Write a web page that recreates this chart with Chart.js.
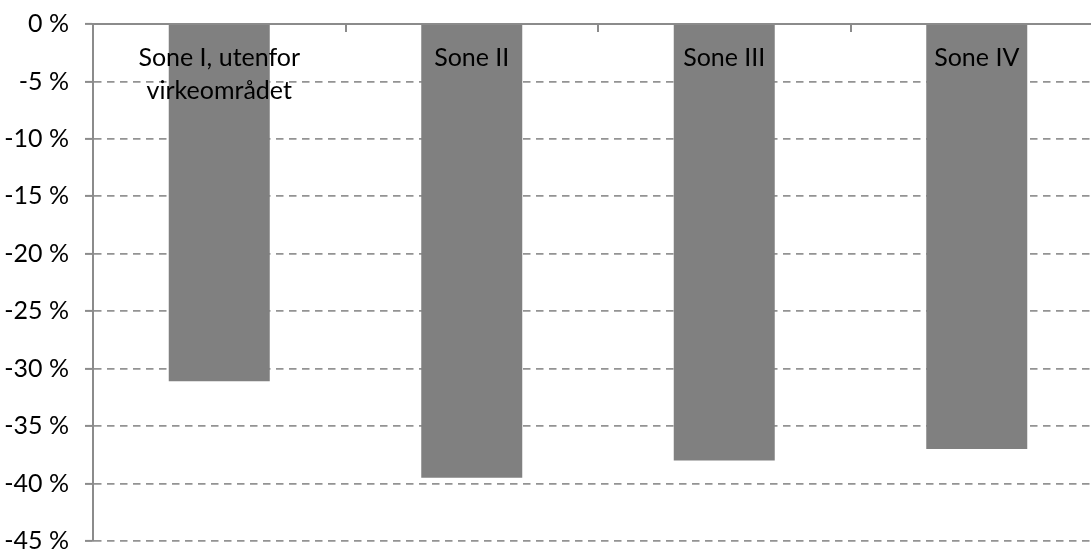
<!DOCTYPE html>
<html lang="no">
<head>
    <meta charset="UTF-8">
    <title>Endring per sone</title>
    <script src="https://cdn.jsdelivr.net/npm/chart.js"></script>
    <style>
        html, body {
            margin: 0;
            padding: 0;
            background: white;
            overflow: hidden;
        }

        .wrap {
            width: 1120px;
            height: 566px;
        }
    </style>
</head>
<body>
    <div class="wrap">
        <canvas id="zoneChart" width="1120" height="566"></canvas>
    </div>

<script>
const zones = [["Sone I, utenfor", "virkeområdet"], "Sone II", "Sone III", "Sone IV"];
const change = [-31.1, -39.5, -38.0, -37.0];
const yMin = -45;
const yMax = 0;
const yStep = 5;

const axisGrey = "#8b8b8b";
const gridGrey = "#939393";
const fontFamily = "Lato, 'DejaVu Sans', sans-serif";

// category names sit inside the plot under the top axis, plus small inward ticks
const insideLabels = {
  id: "insideLabels",
  afterDatasetsDraw(chart) {
    const ctx = chart.ctx;
    const x = chart.scales.x;
    const top = chart.chartArea.top;
    ctx.save();
    ctx.strokeStyle = axisGrey;
    ctx.lineWidth = 2;
    for (let i = 1; i < zones.length; i++) {
      const bx = Math.round((x.getPixelForValue(i - 1) + x.getPixelForValue(i)) / 2);
      ctx.beginPath();
      ctx.moveTo(bx, top);
      ctx.lineTo(bx, top + 8);
      ctx.stroke();
    }
    ctx.fillStyle = "#000";
    ctx.font = "25px " + fontFamily;
    ctx.textAlign = "center";
    ctx.textBaseline = "alphabetic";
    zones.forEach((name, i) => {
      const lines = Array.isArray(name) ? name : [name];
      const cx = x.getPixelForValue(i);
      lines.forEach((line, j) => ctx.fillText(line, cx, top + 42 + j * 33));
    });
    ctx.restore();
  }
};

new Chart("zoneChart", {
  type: "bar",
  data: {
    labels: zones,
    datasets: [{
      data: change,
      backgroundColor: "#808080",
      borderWidth: 0,
      categoryPercentage: 1.0,
      barPercentage: 0.4
    }]
  },
  options: {
    responsive: false,
    animation: false,
    layout: {
      padding: { top: 24, right: 17, bottom: 25, left: 0 }
    },
    plugins: {
      legend: { display: false },
      tooltip: { enabled: false }
    },
    scales: {
      x: {
        position: "top",
        ticks: { display: false },
        grid: { drawOnChartArea: false, drawTicks: false },
        border: { color: axisGrey, width: 2 }
      },
      y: {
        min: yMin,
        max: yMax,
        afterFit(scale) {
          scale.width = 93;
          scale.paddingTop = 0;
          scale.paddingBottom = 0;
        },
        ticks: {
          stepSize: yStep,
          padding: 16,
          color: "#000",
          font: { family: fontFamily, size: 25 },
          callback: v => String(v) + " %"
        },
        grid: {
          color: gridGrey,
          lineWidth: 1.8,
          tickLength: 8,
          tickColor: axisGrey,
          tickWidth: 2
        },
        border: { color: axisGrey, width: 2, dash: [7.5, 5.5] }
      }
    }
  },
  plugins: [insideLabels]
});
</script>
</body>
</html>
